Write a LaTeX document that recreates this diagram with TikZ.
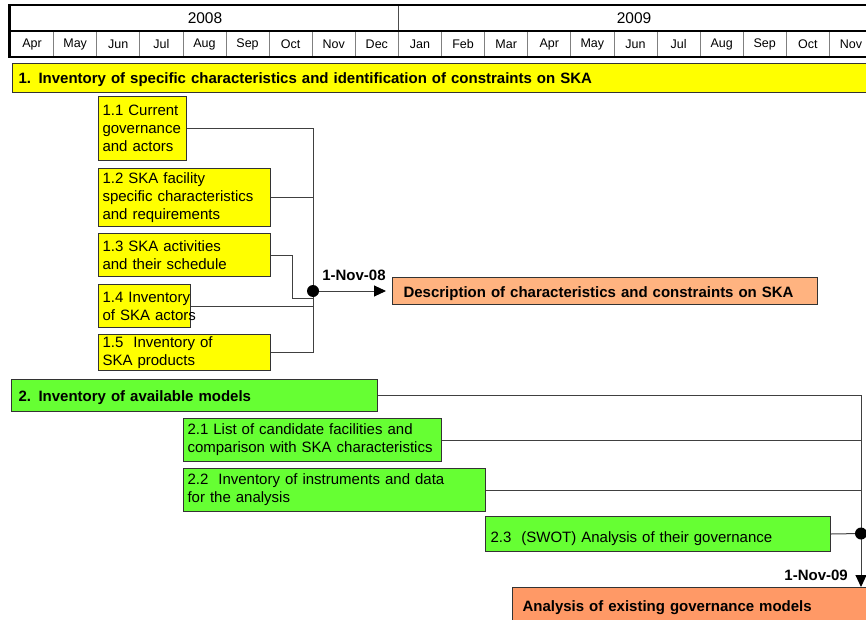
\documentclass[tikz,border=0pt]{standalone}
\usepackage{fontspec}
\setmainfont{Liberation Sans}
\usetikzlibrary{arrows.meta}
\definecolor{ylw}{HTML}{FFFF00}
\definecolor{grn}{HTML}{66FF33}
\definecolor{org1}{HTML}{FFB380}
\definecolor{org2}{HTML}{FF9966}
\tikzset{
  box/.style={draw=black!80, line width=1pt, inner xsep=4pt, inner ysep=0pt, align=left,
    font=\fontsize{15}{18}\selectfont, anchor=north west},
  ybox/.style={box, fill=ylw},
  gbox/.style={box, fill=grn},
  obox/.style={box, fill=org1},
  bld/.style={font=\fontsize{15}{18}\selectfont\bfseries, text height=14pt, text depth=2pt},
  conn/.style={draw=black!75, line width=1pt},
  arr/.style={conn, -{Triangle[length=12pt,width=11pt,fill=black,color=black]}},
  lbl/.style={font=\fontsize{15}{18}\selectfont\bfseries, inner sep=0pt},
  month/.style={font=\fontsize{12.5}{14}\selectfont, inner sep=0pt},
  year/.style={font=\fontsize{15.5}{18}\selectfont, inner sep=0pt},
  dot/.style={fill=black}
}
\begin{document}
\begin{tikzpicture}[x=1pt,y=-1pt]
\useasboundingbox (0,0) rectangle (866,620);
\clip (0,0) rectangle (866,620);
% ---- timeline header
\draw[black!70, line width=0.8pt] (398,5) -- (398,57);
\foreach \i in {1,...,19} {\draw[black!50, line width=0.8pt] ({10.5+43.1*\i},31) -- ({10.5+43.1*\i},57);}
\draw[line width=2.5pt] (9.5,5) rectangle (890,57);
\draw[line width=1.5pt] (9.5,31) -- (890,31);
\node[year] (y2008) at (205,18) {2008};
\node[year] (y2009) at (634,18) {2009};
\foreach \m [count=\i from 0] in {Apr,May,Jun,Jul,Aug,Sep,Oct,Nov,Dec,Jan,Feb,Mar,Apr,May,Jun,Jul,Aug,Sep,Oct,Nov}
  {\node[month] (m\i) at ({10.5+43.1*\i+21.55},44.5) {\m};}
% ---- group 1
\node[ybox, bld, inner xsep=6pt, minimum width=880pt, minimum height=29pt, text width=868pt] (t1) at (12,63)
  {1. Inventory of specific characteristics and identification of constraints on SKA};
\node[ybox, minimum width=88pt, minimum height=64pt, text width=80pt] (b11) at (98,96)
  {1.1 Current\\governance\\and actors};
\node[ybox, minimum width=172pt, minimum height=58pt, text width=164pt] (b12) at (98,168)
  {1.2 SKA facility\\specific characteristics\\and requirements};
\node[ybox, minimum width=172pt, minimum height=43pt, text width=164pt] (b13) at (98,233)
  {1.3 SKA activities\\and their schedule};
\node[ybox, minimum width=92pt, minimum height=43pt, text width=84pt] (b14) at (98,284)
  {\mbox{1.4 Inventory}\\\mbox{of SKA actors}};
\node[ybox, minimum width=172pt, minimum height=36pt, text width=164pt] (b15) at (98,334)
  {1.5~ Inventory of\\SKA products};
\coordinate (j1) at (313,291);
\coordinate (k13a) at (292,298);
\coordinate (k13) at (313,298);
\draw[conn] (b11.east) -- (b11.east -| j1);
\draw[conn] (b12.east) -- (b12.east -| j1);
\draw[conn] (b13.east) -- (b13.east -| k13a) -- (k13a) -- (k13);
\draw[conn] (b14.east) -- (b14.east -| j1);
\draw[conn] (b15.east) -- (b15.east -| j1);
\draw[conn] (b11.east -| j1) -- (b15.east -| j1);
\node[obox, bld, inner xsep=11pt, minimum width=425pt, minimum height=27pt, text width=403pt] (d1) at (392,277)
  {Description of characteristics and constraints on SKA};
\draw[arr, shorten >=6pt] (j1) -- (j1 -| d1.west);
\fill[dot] (j1) circle (6pt);
\node[lbl] (l1) at (354,275) {1-Nov-08};
% ---- group 2
\node[gbox, bld, inner xsep=7pt, minimum width=366pt, minimum height=32pt, text width=352pt] (b2) at (11,379)
  {2. Inventory of available models};
\node[gbox, minimum width=258pt, minimum height=43pt, text width=250pt] (b21) at (183,418)
  {2.1 List of candidate facilities and\\comparison with SKA characteristics};
\node[gbox, minimum width=302pt, minimum height=43pt, text width=294pt] (b22) at (183,468)
  {2.2~ Inventory of instruments and data\\for the analysis};
\node[gbox, inner xsep=5pt, text height=16pt, text depth=0pt, minimum width=345pt, minimum height=35pt, text width=335pt] (b23) at (485,516)
  {2.3~ (SWOT) Analysis of their governance};
\coordinate (j2) at (861,533.5);
\node[box, fill=org2, bld, inner xsep=10pt, minimum width=380pt, minimum height=36pt, text width=360pt] (d2) at (512,587)
  {Analysis of existing governance models};
\draw[conn] (b2.east) -| (j2);
\draw[conn] (b21.east) -- (b21.east -| j2);
\draw[conn] (b22.east) -- (b22.east -| j2);
\draw[conn] (b23.east) -- (j2);
\draw[arr] (j2) -- (j2 |- d2.north);
\fill[dot] (j2) circle (6pt);
\node[lbl, anchor=east] (l2) at (848,575) {1-Nov-09};
\end{tikzpicture}
\end{document}
